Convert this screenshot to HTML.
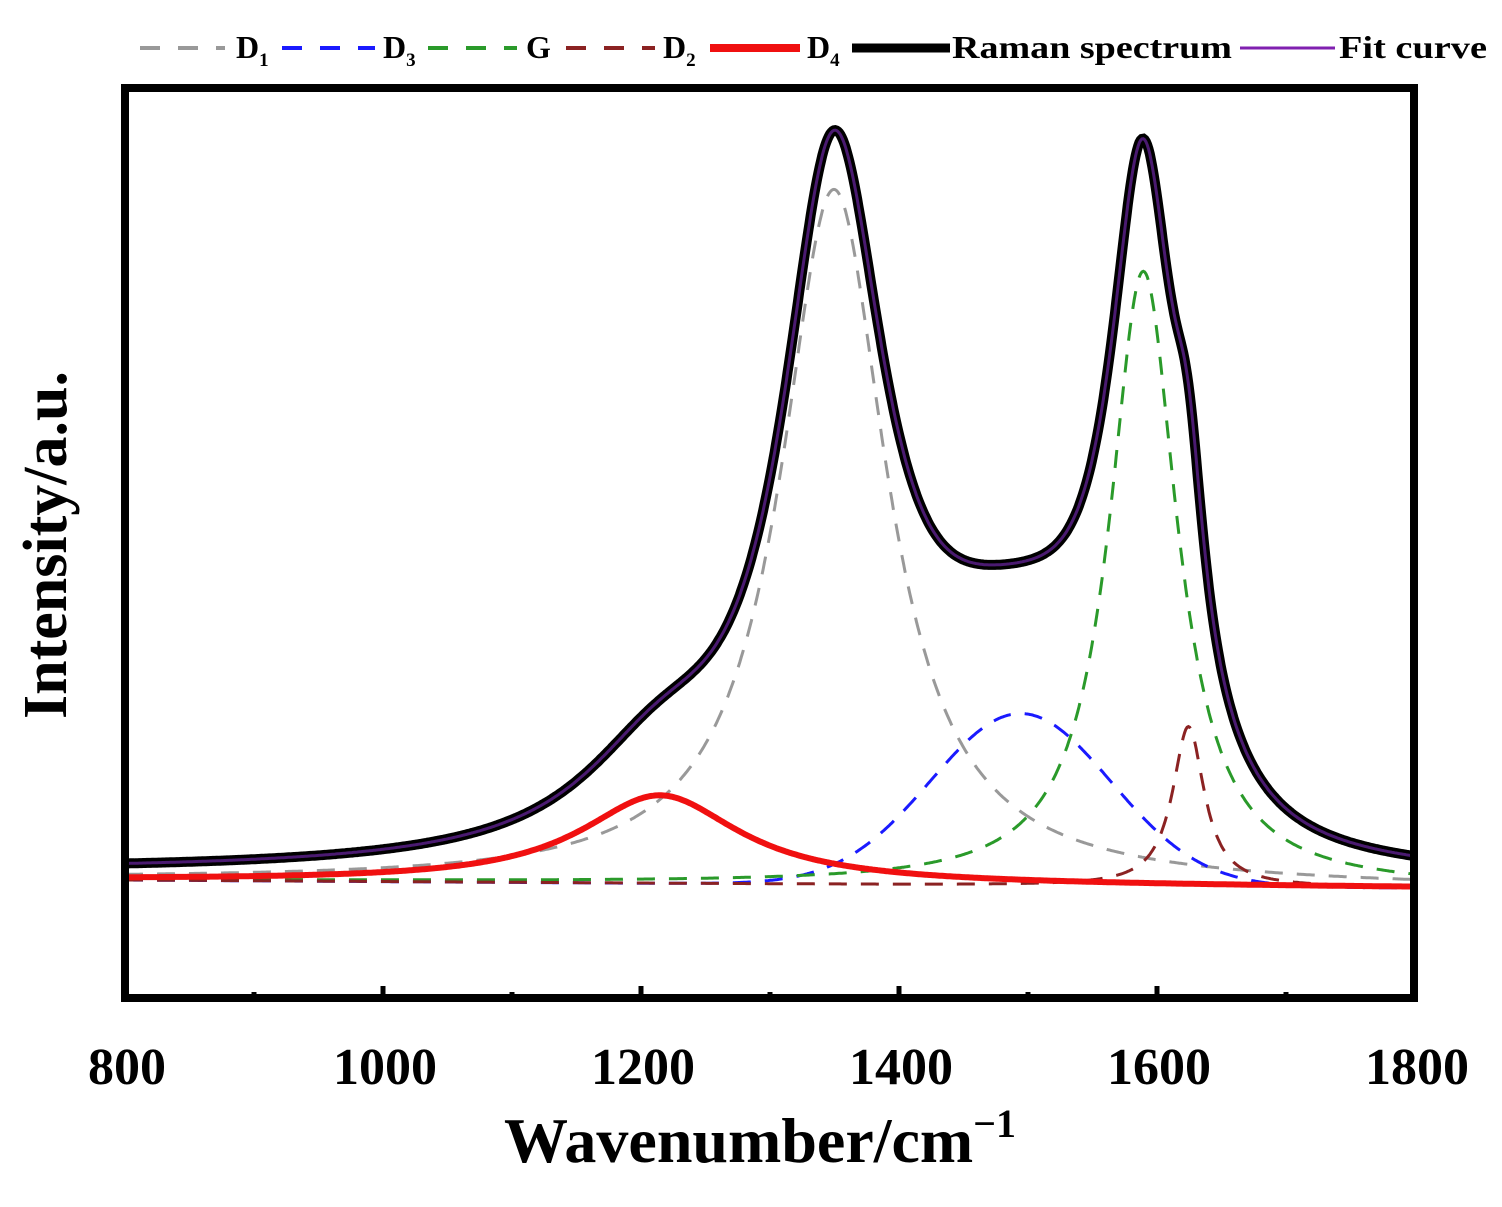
<!DOCTYPE html>
<html><head><meta charset="utf-8"><style>
body{margin:0;background:#fff;}
svg text{font-family:"Liberation Serif",serif;font-weight:bold;}
</style></head><body>
<svg id="s" width="1502" height="1202" viewBox="0 0 1502 1202" xmlns="http://www.w3.org/2000/svg">
<rect width="1502" height="1202" fill="#fff"/>
<g id="curves"></g>
<rect x="125" y="88" width="1289" height="910" fill="none" stroke="#000" stroke-width="8"/>
<g stroke="#000" stroke-width="5">
<line x1="383" y1="998" x2="383" y2="986"/><line x1="641" y1="998" x2="641" y2="986"/>
<line x1="899" y1="998" x2="899" y2="986"/><line x1="1157" y1="998" x2="1157" y2="986"/>
<line x1="254" y1="998" x2="254" y2="992"/><line x1="512" y1="998" x2="512" y2="992"/>
<line x1="770" y1="998" x2="770" y2="992"/><line x1="1028" y1="998" x2="1028" y2="992"/>
<line x1="1286" y1="998" x2="1286" y2="992"/>
</g>
<g font-size="52" text-anchor="middle">
<text x="127" y="1084">800</text><text x="385" y="1084">1000</text><text x="643" y="1084">1200</text>
<text x="901" y="1084">1400</text><text x="1159" y="1084">1600</text><text x="1417" y="1084">1800</text>
</g>
<text x="760" y="1162" font-size="64" text-anchor="middle">Wavenumber/cm<tspan dy="-25" font-size="40">−1</tspan></text>
<text transform="translate(66,545) rotate(-90)" font-size="62" text-anchor="middle">Intensity/a.u.</text>
<g font-size="32">
<line x1="140" y1="48" x2="225" y2="48" stroke="#999" stroke-width="4" stroke-dasharray="20,18"/>
<text x="236" y="58">D<tspan font-size="19" dy="8">1</tspan></text>
<line x1="282" y1="48" x2="375" y2="48" stroke="#1a1aff" stroke-width="4" stroke-dasharray="20,18"/>
<text x="383" y="58">D<tspan font-size="19" dy="8">3</tspan></text>
<line x1="428" y1="48" x2="517" y2="48" stroke="#2a9a2a" stroke-width="4" stroke-dasharray="20,18"/>
<text x="526" y="58">G</text>
<line x1="566" y1="48" x2="655" y2="48" stroke="#8b2222" stroke-width="4" stroke-dasharray="20,18"/>
<text x="663" y="58">D<tspan font-size="19" dy="8">2</tspan></text>
<line x1="710" y1="48" x2="800" y2="48" stroke="#f01010" stroke-width="8"/>
<text x="807" y="58">D<tspan font-size="19" dy="8">4</tspan></text>
<line x1="852" y1="48" x2="950" y2="48" stroke="#000" stroke-width="9"/>
<text x="952" y="58" textLength="280" lengthAdjust="spacingAndGlyphs">Raman spectrum</text>
<line x1="1240" y1="48" x2="1335" y2="48" stroke="#8020b0" stroke-width="3"/>
<text x="1339" y="58" textLength="148" lengthAdjust="spacingAndGlyphs">Fit curve</text>
</g>
</svg>
<script>
var X=function(w){return 125+(w-800)*1.289;};
var L=function(w,c,h,g){return h/(1+Math.pow((w-c)/g,2));};
var G=function(w,c,h,s){return h*Math.exp(-Math.pow(w-c,2)/(2*s*s));};
var f={
d1:function(w){return L(w,1350,695,50);},
d3:function(w){return G(w,1495,172,70);},
g:function(w){return L(w,1590,615,32);},
d2:function(w){return L(w,1625,160,15);},
d4:function(w){return L(w,1215,88,75);}
};
var base=function(w){return 880+(w-800)*0.008;};
function path(fn){var d="";for(var w=800;w<=1800;w+=1){var y=base(w)-fn(w);d+=(w==800?"M":"L")+X(w).toFixed(1)+","+y.toFixed(1);}return d;}
var tot=function(w){return f.d1(w)+f.d3(w)+f.g(w)+f.d2(w)+f.d4(w)+7;};
var items=[
[f.d1,"#999",3,"18,14"],[f.d3,"#1a1aff",3,"18,14"],[f.g,"#2a9a2a",3,"18,14"],[f.d2,"#8b2222",3,"18,14"],
[f.d4,"#f01010",6,""],[tot,"#000",10,""],[tot,"#4a1a70",3,""]];
var s="";
items.forEach(function(it){s+='<path d="'+path(it[0])+'" fill="none" stroke="'+it[1]+'" stroke-width="'+it[2]+'"'+(it[3]?' stroke-dasharray="'+it[3]+'"':'')+'/>';});
document.getElementById("curves").innerHTML=s;
</script>
</body></html>
